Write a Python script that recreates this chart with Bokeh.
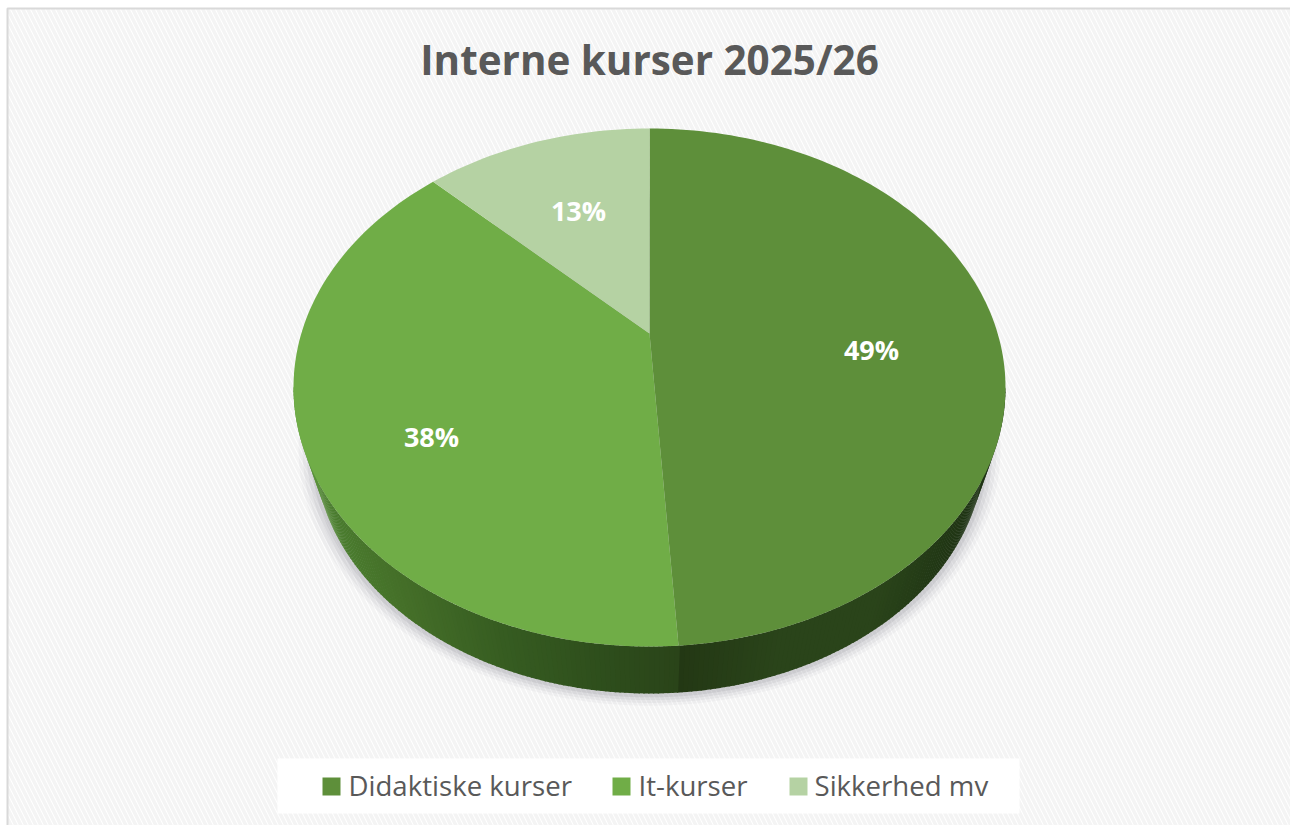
import math
from bokeh.plotting import figure
from bokeh.models import Range1d
from bokeh.core.properties import value
from bokeh.embed import file_html
from bokeh.resources import INLINE

title_text = "Interne kurser 2025/26"
categories = ["Didaktiske kurser", "It-kurser", "Sikkerhed mv"]
labels = ["49%", "38%", "13%"]
# Shares of the ellipse's sweep as they appear in the picture (the 3D view foreshortens them)
shares = [48.7, 40.9, 10.4]
colors = ["#5e8f3a", "#70ad47", "#b5d2a3"]

W, H = 1290, 825
CX, CY, RX, RY = 649, 387, 356, 259
APEX_Y = 333
CX2, CY2, RX2, RY2 = 649, 447, 335, 246

p = figure(width=W, height=H, x_range=Range1d(0, W), y_range=Range1d(H, 0),
           toolbar_location=None, output_backend="svg", min_border=0,
           background_fill_color="#ffffff", outline_line_color=None)
p.axis.visible = False
p.grid.visible = False

# textured background and its frame
p.quad(left=[7], right=[W + 10], top=[8], bottom=[H + 10], fill_color="#ffffff",
       line_color="#d9d9d9", line_width=2,
       hatch_pattern="left_diagonal_line", hatch_color="#f4f4f4", hatch_weight=3.5, hatch_scale=10)


def pt(t, cx=CX, cy=CY, rx=RX, ry=RY):
    return cx + rx * math.sin(t), cy - ry * math.cos(t)


def ellipse(cx, cy, rx, ry, n=180):
    pts = [pt(2 * math.pi * i / n, cx, cy, rx, ry) for i in range(n)]
    return [a for a, _ in pts], [b for _, b in pts]


# soft shadow
for grow, alpha in zip([16, 12, 8, 4], [0.04, 0.06, 0.08, 0.10]):
    xs, ys = ellipse(CX2, CY2 + 1, RX2 + grow, RY2 + grow * 0.7)
    p.patch(xs, ys, fill_color="#555566", fill_alpha=alpha, line_color=None)


def mix(stops, x):
    for (x0, c0), (x1, c1) in zip(stops, stops[1:]):
        if x <= x1:
            f = max(0, (x - x0) / (x1 - x0))
            rgb = [round(c0[i] + (c1[i] - c0[i]) * f) for i in range(3)]
            return "#%02x%02x%02x" % tuple(rgb)
    return "#%02x%02x%02x" % tuple(stops[-1][1])


wall_stops = [(300, (88, 145, 56)), (330, (74, 124, 46)), (400, (68, 110, 40)), (500, (54, 92, 33)),
              (600, (46, 78, 28)), (677, (42, 68, 25)), (679, (35, 56, 20)), (780, (42, 68, 26)),
              (880, (42, 68, 26)), (960, (32, 54, 20)), (1000, (24, 44, 14))]

# side wall, as narrow bands round the front of the disc
N = 220
for i in range(N):
    t0 = math.pi / 2 + math.pi * i / N
    t1 = math.pi / 2 + math.pi * (i + 1.3) / N
    a0, b0 = pt(t0), pt(t1)
    c0, d0 = pt(t1, CX2, CY2, RX2, RY2), pt(t0, CX2, CY2, RX2, RY2)
    col = mix(wall_stops, (a0[0] + b0[0]) / 2)
    p.patch([a0[0], b0[0], c0[0], d0[0]], [a0[1], b0[1], c0[1], d0[1]],
            fill_color=col, line_color=None)

# top of the disc
start = 0.0
total = sum(shares)
for s, col in zip(shares, colors):
    end = start + s / total * 2 * math.pi
    n = max(8, int(s * 3))
    pts = [pt(start + (end - start) * i / n) for i in range(n + 1)]
    p.patch([CX] + [a for a, _ in pts], [APEX_Y] + [b for _, b in pts],
            fill_color=col, line_color=None)
    start = end

# data labels
p.text(x=[871, 431, 578], y=[349, 436, 210], text=labels, text_color="#ffffff",
       text_font=value("Open Sans"), text_font_style="bold", text_font_size="27px",
       text_align="center", text_baseline="middle")

# title
p.text(x=[649], y=[59], text=[title_text], text_color="#595959", text_font=value("Open Sans"),
       text_font_style="bold", text_font_size="40.4px", text_align="center", text_baseline="middle")

# legend
p.quad(left=[277], right=[1019], top=[758], bottom=[813], fill_color="#ffffff", line_color=None)
p.quad(left=[322, 612, 789], right=[340, 630, 807],
       top=[777, 777, 777], bottom=[795, 795, 795], fill_color=colors, line_color=None)
p.text(x=[348, 638, 814], y=[784, 784, 784], text=categories, text_color="#595959",
       text_font=value("Open Sans"), text_font_size="27.6px", text_align="left", text_baseline="middle")

open("out.html", "w").write(file_html(p, INLINE))
